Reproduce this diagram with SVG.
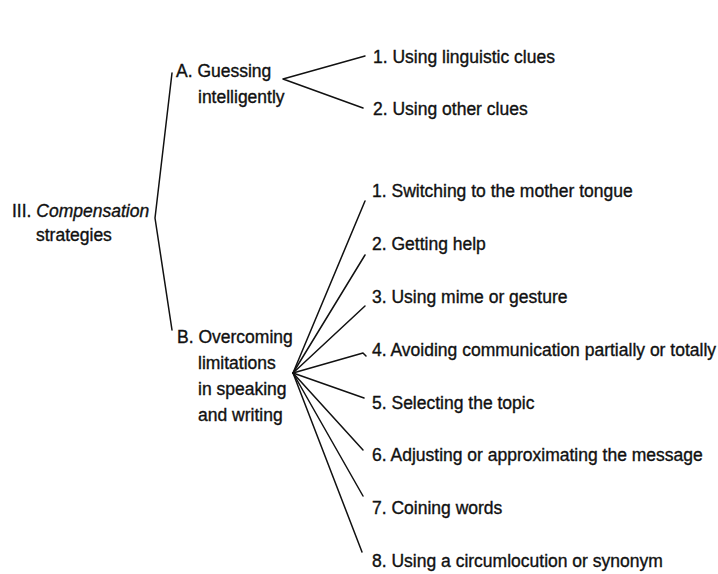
<svg xmlns="http://www.w3.org/2000/svg" width="718" height="574" viewBox="0 0 718 574">
<style>
text{font-family:"Liberation Sans",Arial,Helvetica,sans-serif;font-size:17.5px;fill:#111;stroke:#111;stroke-width:0.35}
.c{fill:none;stroke:#111;stroke-width:1.5;stroke-linecap:round;stroke-linejoin:round}
</style>
<rect width="718" height="574" fill="#fff"/>
<g id="connectors" class="c">
<polyline points="172,73 155,218 172,330"/>
<polyline points="365,56 283,79 363,108"/>
<line x1="293" y1="373" x2="365" y2="201"/>
<line x1="293" y1="373" x2="365" y2="255"/>
<line x1="293" y1="373" x2="365" y2="306"/>
<polyline points="293,373 363,353 366,356"/>
<line x1="293" y1="373" x2="364" y2="398"/>
<line x1="293" y1="373" x2="363" y2="450"/>
<line x1="293" y1="373" x2="363" y2="496"/>
<line x1="293" y1="373" x2="362" y2="552"/>
</g>
<g id="root"><text x="12" y="217">III. <tspan font-style="italic">Compensation</tspan></text><text x="36" y="241">strategies</text></g>
<g id="nodeA"><text x="176" y="77">A. Guessing</text><text x="198" y="103">intelligently</text></g>
<g id="nodeB"><text x="177" y="343">B. Overcoming</text><text x="198" y="369">limitations</text><text x="198" y="395">in speaking</text><text x="198" y="421">and writing</text></g>
<g id="a1"><text x="373" y="63">1. Using linguistic clues</text></g>
<g id="a2"><text x="373" y="115">2. Using other clues</text></g>
<g id="b1"><text x="372" y="197">1. Switching to the mother tongue</text></g>
<g id="b2"><text x="372" y="250">2. Getting help</text></g>
<g id="b3"><text x="372" y="303">3. Using mime or gesture</text></g>
<g id="b4"><text x="372" y="356">4. Avoiding communication partially or totally</text></g>
<g id="b5"><text x="372" y="409">5. Selecting the topic</text></g>
<g id="b6"><text x="372" y="461">6. Adjusting or approximating the message</text></g>
<g id="b7"><text x="372" y="514">7. Coining words</text></g>
<g id="b8"><text x="372" y="567">8. Using a circumlocution or synonym</text></g>
</svg>
